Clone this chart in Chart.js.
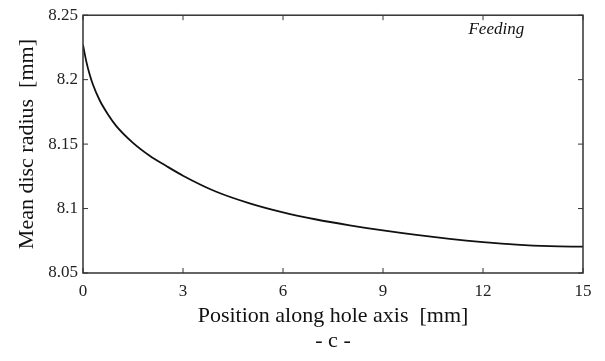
<!DOCTYPE html>
<html>
<head>
<meta charset="utf-8">
<script src="https://cdn.jsdelivr.net/npm/chart.js@4/dist/chart.umd.min.js"></script>
<style>
  html, body { margin: 0; padding: 0; background: #fff; }
  #wrap { width: 605px; height: 361px; }
</style>
</head>
<body>
<div id="wrap"><canvas id="myChart" width="605" height="361"></canvas></div>
<script>
// values
const positions = [0, 0.1, 0.2, 0.3, 0.5, 0.75, 1, 1.5, 2, 2.5, 3, 4, 5, 6, 7, 8, 9, 10, 11, 12, 13, 14, 15];
const radius = [8.227, 8.214, 8.204, 8.196, 8.184, 8.173, 8.164, 8.151, 8.141, 8.133, 8.1255, 8.113, 8.104, 8.097, 8.0915, 8.087, 8.083, 8.0795, 8.0765, 8.074, 8.072, 8.0708, 8.0704];
const xTicks = [0, 3, 6, 9, 12, 15];
const yTicks = [8.05, 8.1, 8.15, 8.2, 8.25];
const yTickLabels = ['8.05', '8.1', '8.15', '8.2', '8.25'];

const serif = "'Liberation Serif', 'DejaVu Serif', serif";

// box around the plot with small inward ticks on all four sides
const framePlugin = {
  id: 'frame',
  afterDraw(chart) {
    const { ctx, chartArea: a, scales } = chart;
    const tl = 5;
    ctx.save();
    ctx.strokeStyle = '#333';
    ctx.lineWidth = 1.5;
    ctx.strokeRect(a.left, a.top, a.right - a.left, a.bottom - a.top);
    ctx.lineWidth = 1;
    ctx.beginPath();
    xTicks.forEach(v => {
      const x = scales.x.getPixelForValue(v);
      ctx.moveTo(x, a.bottom); ctx.lineTo(x, a.bottom - tl);
      ctx.moveTo(x, a.top); ctx.lineTo(x, a.top + tl);
    });
    yTicks.forEach(v => {
      const y = scales.y.getPixelForValue(v);
      ctx.moveTo(a.left, y); ctx.lineTo(a.left + tl, y);
      ctx.moveTo(a.right, y); ctx.lineTo(a.right - tl, y);
    });
    ctx.stroke();
    ctx.fillStyle = '#111';
    ctx.font = 'italic 17px ' + serif;
    ctx.textAlign = 'center';
    ctx.textBaseline = 'middle';
    ctx.fillText('Feeding', scales.x.getPixelForValue(12.4), a.top + 14);
    ctx.restore();
  }
};

new Chart(document.getElementById('myChart'), {
  type: 'scatter',
  data: {
    datasets: [{
      data: positions.map((x, i) => ({ x: x, y: radius[i] })),
      showLine: true,
      borderColor: '#111',
      borderWidth: 1.8,
      pointRadius: 0,
      cubicInterpolationMode: 'monotone'
    }]
  },
  options: {
    responsive: false,
    animation: false,
    layout: { padding: { top: 15, right: 22, left: 0, bottom: 0 } },
    plugins: { legend: { display: false }, tooltip: { enabled: false } },
    scales: {
      x: {
        type: 'linear',
        min: 0,
        max: 15,
        afterBuildTicks: s => { s.ticks = xTicks.map(v => ({ value: v })); },
        afterFit: s => { s.height = 88; },
        grid: { display: false, drawTicks: false },
        border: { display: false },
        ticks: { color: '#222', padding: 8, font: { family: serif, size: 17 } },
        title: {
          display: true,
          text: ['Position along hole axis  [mm]', '- c -'],
          color: '#111',
          font: { family: serif, size: 22, lineHeight: 1.15 },
          padding: { top: 0, bottom: 7 }
        }
      },
      y: {
        min: 8.05,
        max: 8.25,
        afterBuildTicks: s => { s.ticks = yTicks.map(v => ({ value: v })); },
        afterFit: s => { s.width = 83; },
        grid: { display: false, drawTicks: false },
        border: { display: false },
        ticks: {
          color: '#222',
          padding: 5,
          font: { family: serif, size: 17 },
          callback: (v, i) => yTickLabels[i]
        },
        title: {
          display: true,
          text: 'Mean disc radius  [mm]',
          color: '#111',
          font: { family: serif, size: 22 },
          padding: { top: 14, bottom: 0 }
        }
      }
    }
  },
  plugins: [framePlugin]
});
</script>
</body>
</html>
